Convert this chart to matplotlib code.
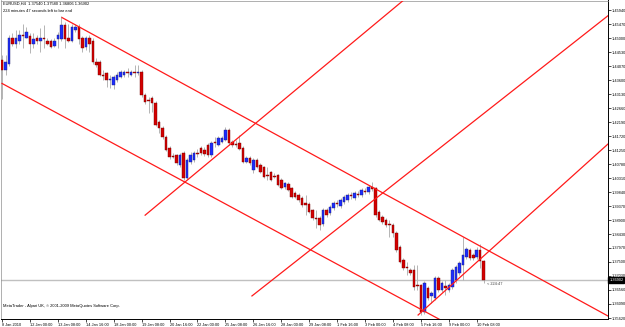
import numpy as np
import matplotlib
matplotlib.use("Agg")
import matplotlib.pyplot as plt

plt.rcParams["font.family"] = ["Liberation Sans", "DejaVu Sans"]

# EURUSD H4 candles, 8 Jan - 10 Feb 2010
opn = [1.4426, 1.4393, 1.4413, 1.4503, 1.4483, 1.4490, 1.4513, 1.4503, 1.4507, 1.4483,
       1.4503, 1.4493, 1.4500, 1.4493, 1.4490, 1.4473, 1.4497, 1.4497, 1.4544, 1.4500,
       1.4493, 1.4527, 1.4540, 1.4500, 1.4470, 1.4503, 1.4493, 1.4420, 1.4420, 1.4379,
       1.4383, 1.4359, 1.4343, 1.4359, 1.4369, 1.4376, 1.4386, 1.4376, 1.4386, 1.4383,
       1.4389, 1.4309, 1.4292, 1.4299, 1.4282, 1.4219, 1.4199, 1.4168, 1.4132, 1.4105,
       1.4108, 1.4075, 1.4115, 1.4031, 1.4085, 1.4091, 1.4115, 1.4132, 1.4125, 1.4142,
       1.4108, 1.4152, 1.4142, 1.4152, 1.4158, 1.4192, 1.4152, 1.4145, 1.4148, 1.4132,
       1.4085, 1.4098, 1.4058, 1.4091, 1.4075, 1.4068, 1.4041, 1.4051, 1.4038, 1.4041,
       1.4024, 1.4001, 1.4011, 1.3998, 1.3981, 1.3974, 1.3964, 1.3947, 1.3944, 1.3924,
       1.3897, 1.3897, 1.3877, 1.3924, 1.3914, 1.3931, 1.3947, 1.3937, 1.3951, 1.3957,
       1.3974, 1.3964, 1.3977, 1.3974, 1.3987, 1.3984, 1.4001, 1.3998, 1.3917, 1.3900,
       1.3890, 1.3877, 1.3874, 1.3847, 1.3800, 1.3756, 1.3733, 1.3723, 1.3723, 1.3673,
       1.3673, 1.3582, 1.3663, 1.3636, 1.3629, 1.3696, 1.3656, 1.3669, 1.3656, 1.3666,
       1.3689, 1.3713, 1.3740, 1.3766, 1.3790, 1.3773, 1.3766, 1.3790, 1.3754]
high = [1.4443, 1.4443, 1.4510, 1.4517, 1.4527, 1.4527, 1.4550, 1.4537, 1.4517, 1.4517,
        1.4510, 1.4534, 1.4544, 1.4503, 1.4497, 1.4500, 1.4520, 1.4574, 1.4554, 1.4550,
        1.4547, 1.4547, 1.4550, 1.4507, 1.4507, 1.4510, 1.4500, 1.4433, 1.4426, 1.4393,
        1.4386, 1.4376, 1.4376, 1.4386, 1.4393, 1.4393, 1.4400, 1.4393, 1.4410, 1.4410,
        1.4393, 1.4316, 1.4302, 1.4306, 1.4289, 1.4225, 1.4205, 1.4175, 1.4138, 1.4115,
        1.4111, 1.4115, 1.4121, 1.4098, 1.4118, 1.4121, 1.4128, 1.4138, 1.4135, 1.4148,
        1.4155, 1.4168, 1.4172, 1.4172, 1.4202, 1.4199, 1.4158, 1.4158, 1.4175, 1.4138,
        1.4105, 1.4105, 1.4098, 1.4098, 1.4081, 1.4071, 1.4068, 1.4054, 1.4048, 1.4044,
        1.4031, 1.4018, 1.4018, 1.4001, 1.3987, 1.3981, 1.3971, 1.3974, 1.3951, 1.3927,
        1.3924, 1.3904, 1.3931, 1.3931, 1.3941, 1.3954, 1.3957, 1.3964, 1.3974, 1.3981,
        1.3984, 1.3987, 1.3987, 1.3998, 1.3998, 1.4008, 1.4018, 1.4001, 1.3924, 1.3907,
        1.3897, 1.3890, 1.3880, 1.3853, 1.3807, 1.3763, 1.3750, 1.3730, 1.3740, 1.3740,
        1.3676, 1.3686, 1.3669, 1.3652, 1.3703, 1.3703, 1.3686, 1.3689, 1.3679, 1.3730,
        1.3740, 1.3753, 1.3833, 1.3800, 1.3797, 1.3780, 1.3800, 1.3810, 1.3758]
low = [1.4296, 1.4379, 1.4406, 1.4473, 1.4467, 1.4480, 1.4467, 1.4500, 1.4450, 1.4467,
       1.4480, 1.4453, 1.4467, 1.4477, 1.4467, 1.4470, 1.4467, 1.4493, 1.4467, 1.4487,
       1.4487, 1.4523, 1.4483, 1.4453, 1.4460, 1.4453, 1.4413, 1.4403, 1.4373, 1.4359,
       1.4336, 1.4333, 1.4329, 1.4353, 1.4366, 1.4369, 1.4369, 1.4373, 1.4369, 1.4379,
       1.4302, 1.4279, 1.4249, 1.4252, 1.4205, 1.4182, 1.4162, 1.4121, 1.4095, 1.4098,
       1.4075, 1.4068, 1.4024, 1.4028, 1.4078, 1.4085, 1.4101, 1.4108, 1.4105, 1.4101,
       1.4101, 1.4135, 1.4138, 1.4148, 1.4155, 1.4142, 1.4135, 1.4135, 1.4125, 1.4081,
       1.4081, 1.4075, 1.4048, 1.4065, 1.4048, 1.4031, 1.4024, 1.4021, 1.4031, 1.4004,
       1.3994, 1.3994, 1.3987, 1.3964, 1.3964, 1.3951, 1.3934, 1.3907, 1.3914, 1.3890,
       1.3864, 1.3857, 1.3870, 1.3900, 1.3907, 1.3924, 1.3934, 1.3931, 1.3944, 1.3951,
       1.3961, 1.3957, 1.3967, 1.3967, 1.3977, 1.3977, 1.3987, 1.3900, 1.3887, 1.3877,
       1.3867, 1.3833, 1.3833, 1.3783, 1.3746, 1.3723, 1.3706, 1.3706, 1.3656, 1.3656,
       1.3572, 1.3575, 1.3622, 1.3612, 1.3622, 1.3649, 1.3649, 1.3639, 1.3649, 1.3659,
       1.3679, 1.3706, 1.3689, 1.3760, 1.3756, 1.3756, 1.3760, 1.3730, 1.3681]
close = [1.4393, 1.4420, 1.4500, 1.4483, 1.4500, 1.4513, 1.4507, 1.4523, 1.4483, 1.4497,
         1.4490, 1.4500, 1.4497, 1.4483, 1.4470, 1.4490, 1.4513, 1.4544, 1.4497, 1.4490,
         1.4540, 1.4540, 1.4497, 1.4467, 1.4500, 1.4483, 1.4420, 1.4410, 1.4379, 1.4373,
         1.4359, 1.4363, 1.4369, 1.4379, 1.4386, 1.4386, 1.4383, 1.4386, 1.4383, 1.4389,
         1.4309, 1.4286, 1.4289, 1.4282, 1.4209, 1.4199, 1.4168, 1.4125, 1.4101, 1.4101,
         1.4081, 1.4108, 1.4031, 1.4091, 1.4108, 1.4115, 1.4111, 1.4115, 1.4111, 1.4108,
         1.4148, 1.4148, 1.4165, 1.4165, 1.4192, 1.4148, 1.4142, 1.4142, 1.4128, 1.4085,
         1.4098, 1.4081, 1.4091, 1.4068, 1.4051, 1.4034, 1.4038, 1.4024, 1.4034, 1.4008,
         1.3998, 1.4014, 1.3991, 1.3967, 1.3967, 1.3957, 1.3941, 1.3941, 1.3917, 1.3897,
         1.3894, 1.3874, 1.3924, 1.3907, 1.3934, 1.3947, 1.3944, 1.3957, 1.3967, 1.3974,
         1.3971, 1.3981, 1.3974, 1.3991, 1.3984, 1.4001, 1.3994, 1.3907, 1.3890, 1.3884,
         1.3874, 1.3874, 1.3847, 1.3790, 1.3750, 1.3730, 1.3730, 1.3713, 1.3666, 1.3669,
         1.3582, 1.3679, 1.3629, 1.3646, 1.3696, 1.3656, 1.3679, 1.3663, 1.3673, 1.3723,
         1.3733, 1.3746, 1.3773, 1.3793, 1.3763, 1.3763, 1.3790, 1.3753, 1.3690]

price_ticks = [1.35620, 1.36090, 1.36560, 1.37030, 1.37500, 1.37970, 1.38430, 1.38900,
               1.39370, 1.39840, 1.40310, 1.40780, 1.41250, 1.41720, 1.42190, 1.42660,
               1.43130, 1.43600, 1.44070, 1.44530, 1.45000, 1.45470, 1.45940]
time_labels = ["8 Jan 2010", "12 Jan 00:00", "13 Jan 08:00", "14 Jan 16:00", "18 Jan 00:00",
               "19 Jan 08:00", "20 Jan 16:00", "22 Jan 00:00", "25 Jan 08:00", "26 Jan 16:00",
               "28 Jan 00:00", "29 Jan 08:00", "1 Feb 16:00", "3 Feb 00:00", "4 Feb 08:00",
               "5 Feb 16:00", "9 Feb 00:00", "10 Feb 08:00"]
label_step = 8
bid = 1.36902

# trend lines drawn as rays: start (bar, price) and a second point (bar, price)
lines = [((17.2, 1.4570), (148.4, 1.3730)),   # upper channel
         ((0.0, 1.4349), (124.6, 1.3562)),    # lower channel
         ((41.0, 1.3907), (84.0, 1.4326)),    # rising line from 19 Jan
         ((71.6, 1.3636), (159.9, 1.4450)),   # rising line from 26 Jan
         ((119.2, 1.3572), (148.4, 1.3880))]  # rising line from 5 Feb low

XMAX = 173.6
fig = plt.figure(figsize=(6.25, 3.27), dpi=100)
ax = fig.add_axes([1 / 625, 8 / 327, 607 / 625, 318.5 / 327])
n = len(close)
idx = np.arange(n)

for i in idx:
    up = close[i] >= opn[i]
    ax.vlines(i, low[i], high[i], color="#b4b4b4", lw=0.7, zorder=2)
    body_lo = min(opn[i], close[i])
    body_h = max(abs(close[i] - opn[i]), 0.00012)
    ax.bar(i, body_h, bottom=body_lo, width=0.72,
           color="#1c2cff" if up else "#d40000",
           edgecolor="#202070" if up else "#700000", lw=0.3, zorder=3)

for (x0, p0), (x1, p1) in lines:
    slope = (p1 - p0) / (x1 - x0)
    xe = XMAX + 5
    ax.plot([x0, xe], [p0, p0 + slope * (xe - x0)], color="#ff1a1a", lw=0.9, zorder=4)

ax.set_xlim(-0.29, XMAX)
ax.set_ylim(1.355865, 1.46273)

ax.axhline(bid, color="#c0c0c0", lw=1.0, zorder=1)

ax.yaxis.tick_right()
ax.set_yticks(price_ticks)
ax.set_yticklabels([f"{p:.5f}" for p in price_ticks])
ax.set_xticks(idx[::label_step][:len(time_labels)])
ax.set_xticklabels(time_labels, ha="left")
ax.tick_params(axis="both", labelsize=2.8, length=2, width=0.5, pad=0.8, colors="black")
for s in ["top", "left"]:
    ax.spines[s].set_color("#909090")
    ax.spines[s].set_linewidth(0.5)
for s in ["right", "bottom"]:
    ax.spines[s].set_linewidth(0.7)

ax.text(1.002, bid, f"{bid:.5f}", transform=ax.get_yaxis_transform(), ha="left", va="center",
        fontsize=2.8, color="white", bbox=dict(boxstyle="square,pad=0.2", fc="black", ec="black"),
        clip_on=False, zorder=6)
ax.text(138.8, 1.3676, "< 224:47", fontsize=2.8, color="#404040", va="center")
ax.text(0.004, 0.997, "EURUSD,H4  1.37540 1.37580 1.36806 1.36902", transform=ax.transAxes,
        fontsize=2.9, va="top")
ax.text(0.004, 0.974, "224 minutes 47 seconds left to bar end", transform=ax.transAxes,
        fontsize=2.9, va="top")
ax.text(0.004, 0.04, "MetaTrader - Alpari UK, \u00a9 2001-2009 MetaQuotes Software Corp.",
        transform=ax.transAxes, fontsize=2.9, va="center")

fig.savefig("out.png", dpi=100)
